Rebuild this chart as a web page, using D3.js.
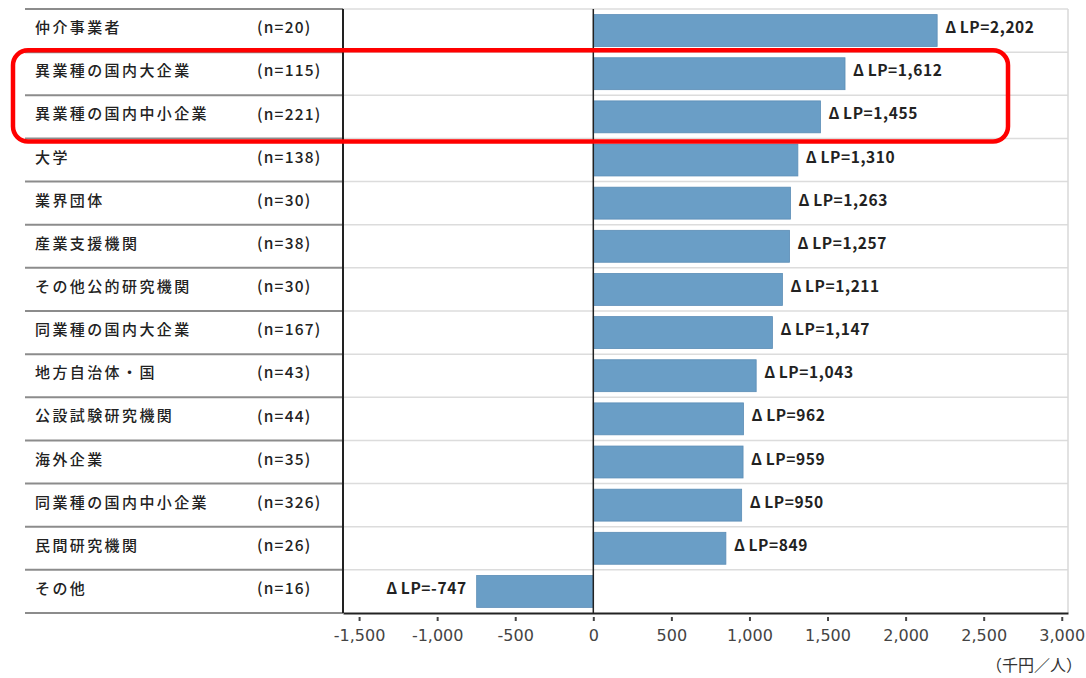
<!DOCTYPE html>
<html><head><meta charset="utf-8">
<script src="https://cdn.jsdelivr.net/npm/d3@7"></script>
<style>
html,body{margin:0;padding:0;background:#fff;}
svg{display:block;}
text{font-family:"Noto Sans CJK JP","Noto Sans",sans-serif;}
.xaxis text{font-family:"DejaVu Sans",sans-serif !important;font-size:16px !important;fill:#444;}
</style></head>
<body>
<svg id="c" width="1086" height="678"></svg>
<script>
const categories = ["仲介事業者","異業種の国内大企業","異業種の国内中小企業","大学","業界団体","産業支援機関","その他公的研究機関","同業種の国内大企業","地方自治体・国","公設試験研究機関","海外企業","同業種の国内中小企業","民間研究機関","その他"];
const counts = [20,115,221,138,30,38,30,167,43,44,35,326,26,16];
const values = [2202,1612,1455,1310,1263,1257,1211,1147,1043,962,959,950,849,-747];
const tickValues = [-1500,-1000,-500,0,500,1000,1500,2000,2500,3000];
const highlighted = ["異業種の国内大企業","異業種の国内中小企業"];
const unitLabel = "（千円／人）";

const svg = d3.select("#c");
const plotLeft = 343, plotRight = 1068, plotTop = 9, plotBottom = 613;
const fmt = v => d3.format(",")(v).replace("−", "-");

const x = d3.scaleLinear().domain([-1603, 3040]).range([plotLeft, plotRight]);
const y = d3.scaleBand().domain(categories).range([plotTop, plotBottom]).padding(0);
const barH = y.bandwidth() * 0.74;
const barOff = (y.bandwidth() - barH) / 2;

// plot area light grid lines
const bounds = categories.map(c => y(c)).concat([plotBottom]);
svg.append("g").selectAll("line").data(bounds.slice(0, -1)).join("line")
  .attr("x1", plotLeft).attr("x2", plotRight)
  .attr("y1", d => d).attr("y2", d => d)
  .attr("stroke", "#dcdcdc").attr("stroke-width", 1.5);
svg.append("line").attr("x1", plotRight).attr("x2", plotRight).attr("y1", plotTop).attr("y2", plotBottom)
  .attr("stroke", "#d8d8d8").attr("stroke-width", 1.5);

// left table lines
svg.append("g").selectAll("line").data(bounds).join("line")
  .attr("x1", 25).attr("x2", plotLeft)
  .attr("y1", d => d).attr("y2", d => d)
  .attr("stroke", "#8c8c8c").attr("stroke-width", 2);

// bars
svg.append("g").selectAll("rect").data(values).join("rect")
  .attr("x", d => x(Math.min(0, d)))
  .attr("width", d => Math.abs(x(d) - x(0)))
  .attr("y", (d, i) => y(categories[i]) + barOff)
  .attr("height", barH)
  .attr("fill", "#6a9ec6").attr("stroke", "#5b8db6").attr("stroke-width", 0.8);

// bar labels
const bl = svg.append("g").selectAll("text").data(values).join("text")
  .attr("x", d => d >= 0 ? x(d) + 8 : x(d) - 10)
  .attr("y", (d, i) => y(categories[i]) + y.bandwidth() / 2 - 1.5)
  .attr("text-anchor", d => d >= 0 ? "start" : "end")
  .attr("dominant-baseline", "middle")
  .attr("font-size", 15.5).attr("font-weight", 700).attr("fill", "#222")
  .attr("letter-spacing", 0.6);
bl.append("tspan").text("Δ");
bl.append("tspan").attr("dx", 3).text(d => "LP=" + fmt(d));

// category labels
svg.append("g").selectAll("text").data(categories).join("text")
  .attr("x", 35).attr("y", d => y(d) + y.bandwidth() / 2 - 1.5)
  .attr("dominant-baseline", "middle")
  .attr("font-size", 15).attr("font-weight", 500).attr("fill", "#222")
  .attr("letter-spacing", 2.4)
  .text(d => d);
svg.append("g").selectAll("text").data(counts).join("text")
  .attr("x", 257).attr("y", (d, i) => y(categories[i]) + y.bandwidth() / 2 - 1.5)
  .attr("dominant-baseline", "middle")
  .attr("font-size", 15.5).attr("font-weight", 500).attr("fill", "#222")
  .attr("letter-spacing", 1.2)
  .text(d => "(n=" + d + ")");

// zero line and left border
svg.append("line").attr("x1", x(0)).attr("x2", x(0)).attr("y1", plotTop).attr("y2", plotBottom)
  .attr("stroke", "#222").attr("stroke-width", 1.5);
svg.append("line").attr("x1", plotLeft).attr("x2", plotLeft).attr("y1", plotTop).attr("y2", plotBottom)
  .attr("stroke", "#222").attr("stroke-width", 2);

// x axis
const ax = svg.append("g").attr("class", "xaxis").attr("transform", `translate(0,${plotBottom})`)
  .call(d3.axisBottom(x).tickValues(tickValues).tickFormat(fmt).tickSize(7).tickSizeOuter(0).tickPadding(10));
ax.select(".domain").attr("stroke", "#222").attr("stroke-width", 2);
ax.selectAll(".tick line").attr("stroke", "#444").attr("stroke-width", 2).attr("y1", 4).attr("y2", 8);

// unit
svg.append("text").attr("x", 1082).attr("y", 667).attr("text-anchor", "end")
  .attr("dominant-baseline", "middle").attr("font-size", 16).attr("fill", "#333").text(unitLabel);

// highlight box
const hy0 = y(highlighted[0]) - 2, hy1 = y(highlighted[1]) + y.bandwidth() + 3;
svg.append("rect").attr("x", 13).attr("y", hy0).attr("width", 995).attr("height", hy1 - hy0)
  .attr("rx", 15).attr("ry", 15).attr("fill", "none").attr("stroke", "#f00").attr("stroke-width", 4.5);
</script>
</body></html>
